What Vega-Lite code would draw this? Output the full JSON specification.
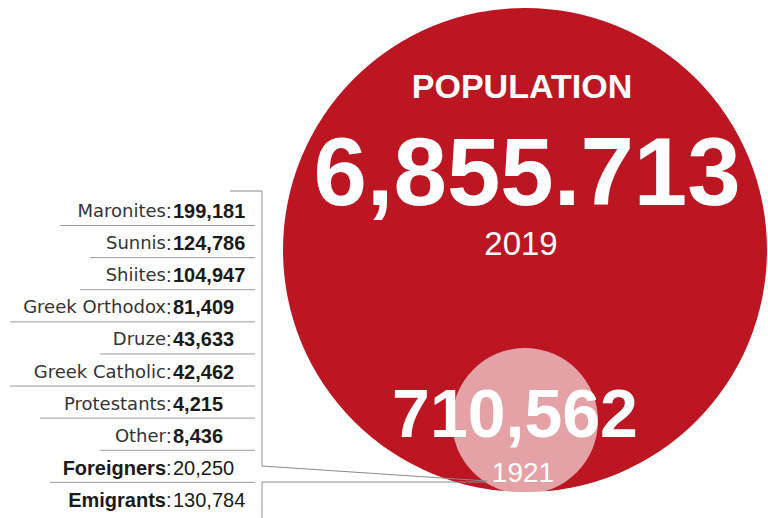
{
  "$schema": "https://vega.github.io/schema/vega-lite/v6.json",
  "width": 768,
  "height": 518,
  "padding": 0,
  "autosize": {"type": "fit", "contains": "padding"},
  "background": "#ffffff",
  "config": {"view": {"stroke": null}, "text": {"font": "Liberation Sans"}},
  "datasets": {
    "population": [
      {"year": "2019", "population": 6855713, "label": "6,855.713"},
      {"year": "1921", "population": 710562, "label": "710,562"}
    ],
    "composition1921": [
      {"group": "Maronites", "count": 199181, "kind": "religion"},
      {"group": "Sunnis", "count": 124786, "kind": "religion"},
      {"group": "Shiites", "count": 104947, "kind": "religion"},
      {"group": "Greek Orthodox", "count": 81409, "kind": "religion"},
      {"group": "Druze", "count": 43633, "kind": "religion"},
      {"group": "Greek Catholic", "count": 42462, "kind": "religion"},
      {"group": "Protestants", "count": 4215, "kind": "religion"},
      {"group": "Other", "count": 8436, "kind": "religion"},
      {"group": "Foreigners", "count": 20250, "kind": "other"},
      {"group": "Emigrants", "count": 130784, "kind": "other"}
    ]
  },
  "resolve": {"scale": {"x": "independent", "y": "independent"}},
  "layer": [
    {
      "data": {"name": "population"},
      "mark": {"type": "point", "shape": "circle", "filled": true, "strokeWidth": 0},
      "encoding": {
        "x": {"value": 525},
        "y": {"field": "population", "type": "quantitative", "scale": {"domain": [710562, 6855713], "range": [421, 250], "zero": false}, "axis": null},
        "size": {"field": "population", "type": "quantitative", "scale": {"domain": [710562, 6855713], "range": [21316, 234256], "zero": false}, "legend": null},
        "color": {"field": "year", "type": "nominal", "scale": {"domain": ["2019", "1921"], "range": ["#BB1622", "#FFFFFF"]}, "legend": null},
        "opacity": {"field": "year", "type": "nominal", "scale": {"domain": ["2019", "1921"], "range": [1, 0.6]}, "legend": null}
      }
    },
    {
      "data": {"name": "population"},
      "transform": [{"filter": "datum.year === '2019'"}],
      "mark": {"type": "text", "text": "POPULATION", "fontSize": 34, "fontWeight": "bold", "color": "#ffffff", "align": "center", "baseline": "middle", "dy": -162},
      "encoding": {
        "x": {"value": 522},
        "y": {"field": "population", "type": "quantitative", "scale": {"domain": [710562, 6855713], "range": [421, 250], "zero": false}, "axis": null}
      }
    },
    {
      "data": {"name": "population"},
      "transform": [{"filter": "datum.year === '2019'"}],
      "mark": {"type": "text", "fontSize": 96, "fontWeight": "bold", "color": "#ffffff", "align": "center", "baseline": "middle", "dy": -74},
      "encoding": {
        "x": {"value": 527},
        "y": {"field": "population", "type": "quantitative", "scale": {"domain": [710562, 6855713], "range": [421, 250], "zero": false}, "axis": null},
        "text": {"field": "label", "type": "nominal"}
      }
    },
    {
      "data": {"name": "population"},
      "transform": [{"filter": "datum.year === '2019'"}],
      "mark": {"type": "text", "fontSize": 33, "color": "#ffffff", "align": "center", "baseline": "middle", "dy": -5},
      "encoding": {
        "x": {"value": 521},
        "y": {"field": "population", "type": "quantitative", "scale": {"domain": [710562, 6855713], "range": [421, 250], "zero": false}, "axis": null},
        "text": {"field": "year", "type": "nominal"}
      }
    },
    {
      "data": {"name": "population"},
      "transform": [{"filter": "datum.year === '1921'"}],
      "mark": {"type": "text", "fontSize": 68, "fontWeight": "bold", "color": "#ffffff", "align": "center", "baseline": "middle", "dy": -4},
      "encoding": {
        "x": {"value": 515},
        "y": {"field": "population", "type": "quantitative", "scale": {"domain": [710562, 6855713], "range": [421, 250], "zero": false}, "axis": null},
        "text": {"field": "label", "type": "nominal"}
      }
    },
    {
      "data": {"name": "population"},
      "transform": [{"filter": "datum.year === '1921'"}],
      "mark": {"type": "text", "fontSize": 28, "color": "#ffffff", "align": "center", "baseline": "middle", "dy": 53},
      "encoding": {
        "x": {"value": 523},
        "y": {"field": "population", "type": "quantitative", "scale": {"domain": [710562, 6855713], "range": [421, 250], "zero": false}, "axis": null},
        "text": {"field": "year", "type": "nominal"}
      }
    },
    {
      "data": {"name": "composition1921"},
      "transform": [{"filter": "datum.kind === 'religion'"}],
      "mark": {"type": "text", "font": "DejaVu Sans", "fontSize": 18, "color": "#333333", "align": "right", "baseline": "middle"},
      "encoding": {
        "x": {"value": 166},
        "y": {"field": "group", "type": "nominal", "scale": {"type": "point", "domain": ["Maronites", "Sunnis", "Shiites", "Greek Orthodox", "Druze", "Greek Catholic", "Protestants", "Other", "Foreigners", "Emigrants"], "range": [212, 501], "padding": 0}, "axis": null},
        "text": {"field": "group", "type": "nominal"}
      }
    },
    {
      "data": {"name": "composition1921"},
      "transform": [{"filter": "datum.kind === 'other'"}],
      "mark": {"type": "text", "fontSize": 20, "fontWeight": "bold", "color": "#1a1a1a", "align": "right", "baseline": "middle"},
      "encoding": {
        "x": {"value": 166},
        "y": {"field": "group", "type": "nominal", "scale": {"type": "point", "domain": ["Maronites", "Sunnis", "Shiites", "Greek Orthodox", "Druze", "Greek Catholic", "Protestants", "Other", "Foreigners", "Emigrants"], "range": [212, 501], "padding": 0}, "axis": null},
        "text": {"field": "group", "type": "nominal"}
      }
    },
    {
      "data": {"name": "composition1921"},
      "mark": {"type": "text", "text": ":", "fontSize": 20, "color": "#333333", "align": "left", "baseline": "middle"},
      "encoding": {
        "x": {"value": 166},
        "y": {"field": "group", "type": "nominal", "scale": {"type": "point", "domain": ["Maronites", "Sunnis", "Shiites", "Greek Orthodox", "Druze", "Greek Catholic", "Protestants", "Other", "Foreigners", "Emigrants"], "range": [212, 501], "padding": 0}, "axis": null}
      }
    },
    {
      "data": {"name": "composition1921"},
      "transform": [{"filter": "datum.kind === 'religion'"}],
      "mark": {"type": "text", "fontSize": 20, "fontWeight": "bold", "color": "#1a1a1a", "align": "left", "baseline": "middle"},
      "encoding": {
        "x": {"value": 173},
        "y": {"field": "group", "type": "nominal", "scale": {"type": "point", "domain": ["Maronites", "Sunnis", "Shiites", "Greek Orthodox", "Druze", "Greek Catholic", "Protestants", "Other", "Foreigners", "Emigrants"], "range": [212, 501], "padding": 0}, "axis": null},
        "text": {"field": "count", "type": "quantitative", "format": ",d"}
      }
    },
    {
      "data": {"name": "composition1921"},
      "transform": [{"filter": "datum.kind === 'other'"}],
      "mark": {"type": "text", "fontSize": 20, "color": "#1a1a1a", "align": "left", "baseline": "middle"},
      "encoding": {
        "x": {"value": 173},
        "y": {"field": "group", "type": "nominal", "scale": {"type": "point", "domain": ["Maronites", "Sunnis", "Shiites", "Greek Orthodox", "Druze", "Greek Catholic", "Protestants", "Other", "Foreigners", "Emigrants"], "range": [212, 501], "padding": 0}, "axis": null},
        "text": {"field": "count", "type": "quantitative", "format": ",d"}
      }
    },
    {
      "data": {"name": "composition1921"},
      "transform": [
        {"filter": "datum.group !== 'Emigrants'"},
        {"calculate": "length(datum.group)", "as": "labelChars"}
      ],
      "mark": {"type": "rule", "color": "#9a9a9a", "strokeWidth": 1, "yOffset": 13.5},
      "encoding": {
        "x": {"field": "labelChars", "type": "quantitative", "scale": {"domain": [0, 15], "range": [150, 0], "zero": false}, "axis": null},
        "x2": {"value": 255},
        "y": {"field": "group", "type": "nominal", "scale": {"type": "point", "domain": ["Maronites", "Sunnis", "Shiites", "Greek Orthodox", "Druze", "Greek Catholic", "Protestants", "Other", "Foreigners", "Emigrants"], "range": [212, 501], "padding": 0}, "axis": null}
      }
    },
    {
      "data": {"values": [{}]},
      "mark": {"type": "rule", "color": "#8a8a8a", "strokeWidth": 1},
      "encoding": {"x": {"value": 230}, "x2": {"value": 262}, "y": {"value": 191}}
    },
    {
      "data": {"values": [{}]},
      "mark": {"type": "rule", "color": "#8a8a8a", "strokeWidth": 1},
      "encoding": {"x": {"value": 262}, "y": {"value": 191}, "y2": {"value": 466}}
    },
    {
      "data": {"values": [{}]},
      "mark": {"type": "rule", "color": "#8a8a8a", "strokeWidth": 1},
      "encoding": {"x": {"value": 262}, "y": {"value": 466}, "x2": {"value": 487}, "y2": {"value": 481}}
    },
    {
      "data": {"values": [{}]},
      "mark": {"type": "rule", "color": "#8a8a8a", "strokeWidth": 1},
      "encoding": {"x": {"value": 262}, "x2": {"value": 487}, "y": {"value": 482}}
    },
    {
      "data": {"values": [{}]},
      "mark": {"type": "rule", "color": "#8a8a8a", "strokeWidth": 1},
      "encoding": {"x": {"value": 262}, "y": {"value": 482}, "y2": {"value": 518}}
    }
  ]
}
